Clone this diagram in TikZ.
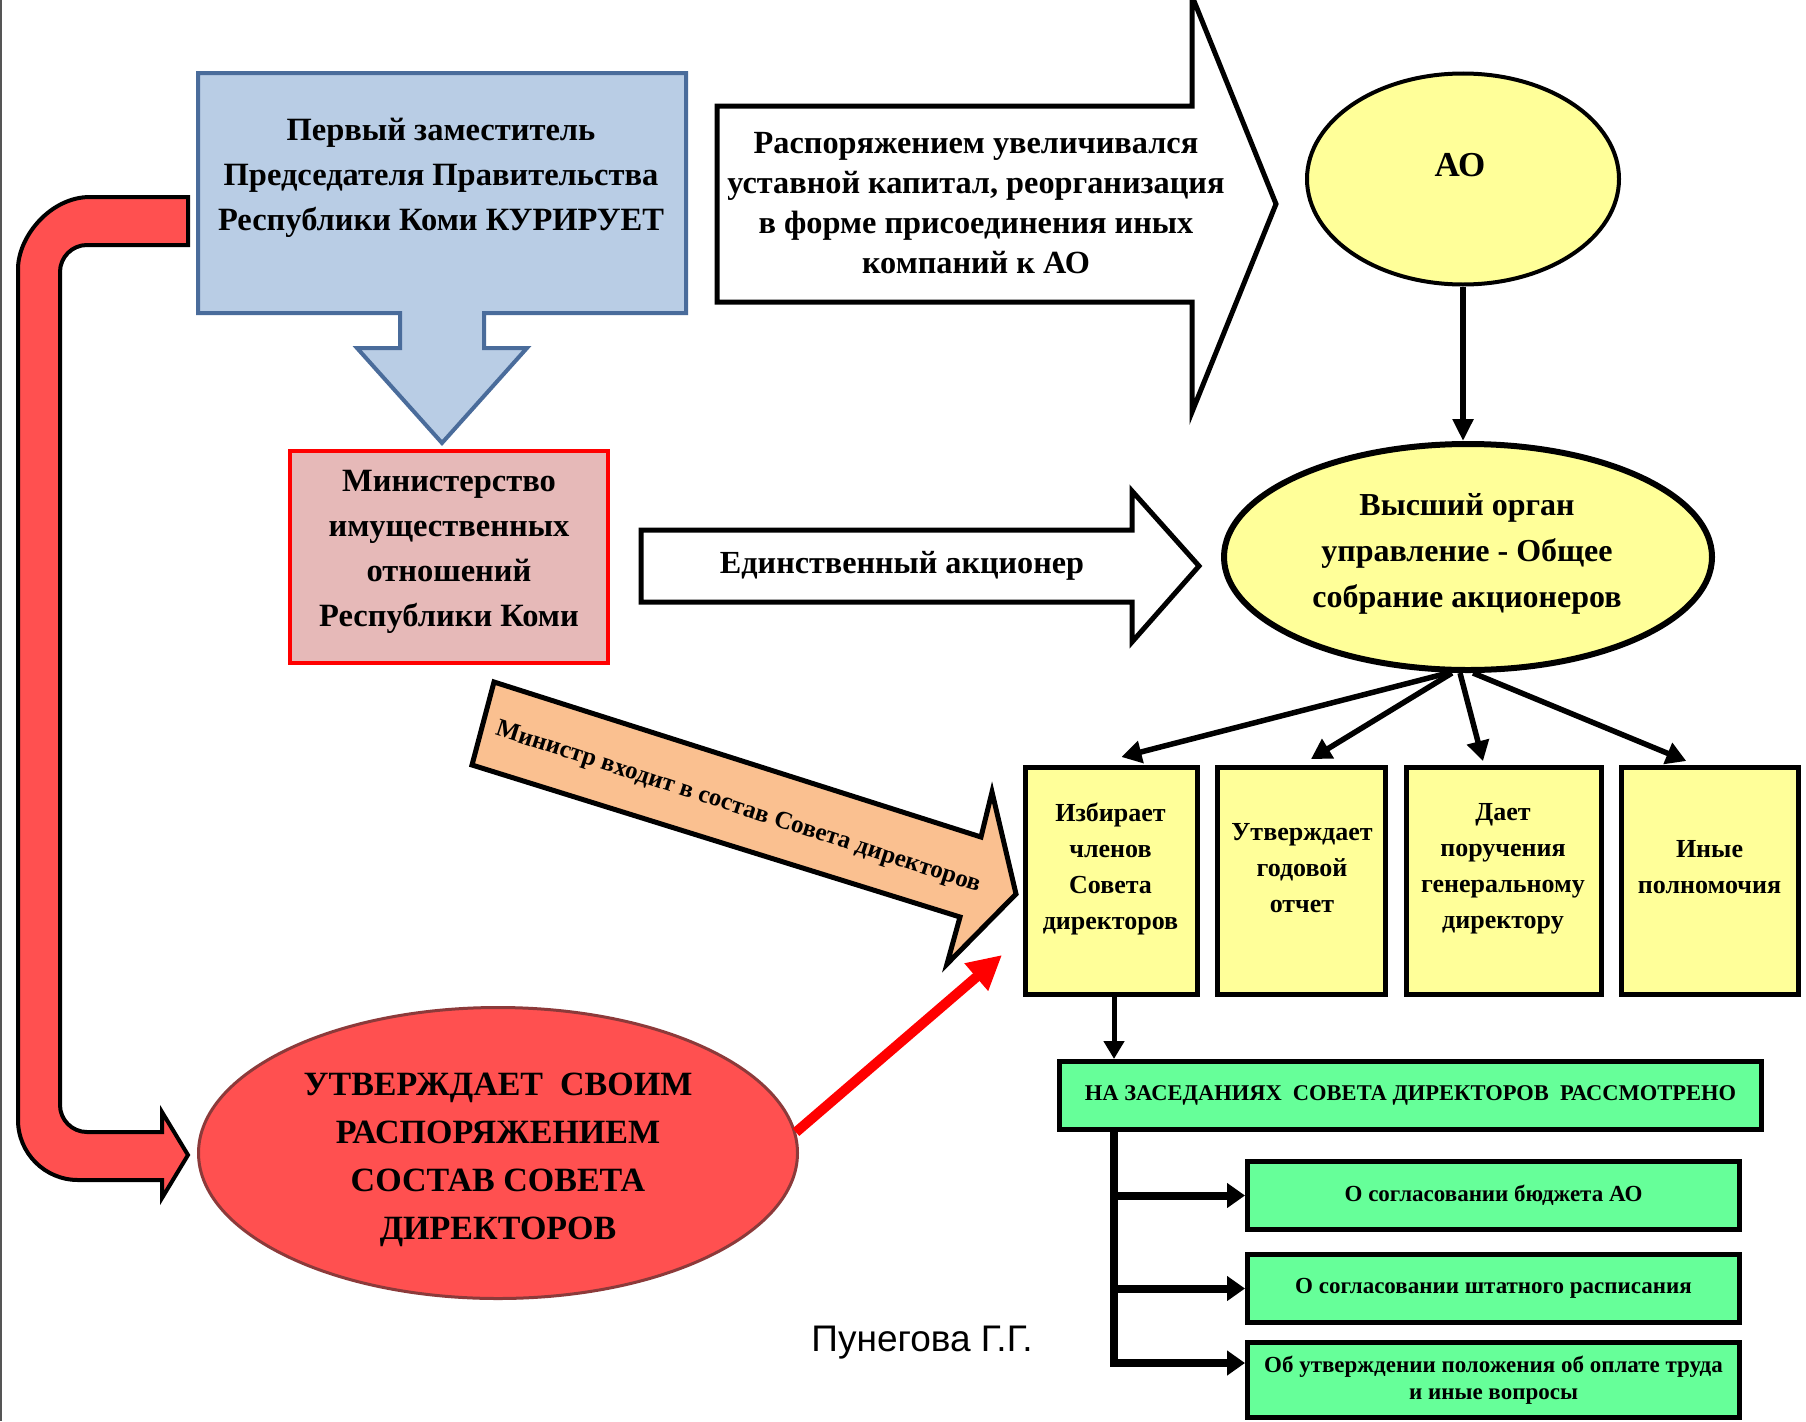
\documentclass[tikz,border=0pt]{standalone}
\usepackage{fontspec}
\setmainfont{Liberation Serif}
\newfontfamily\sansf{Liberation Sans}
\usetikzlibrary{arrows.meta,shapes.geometric,calc}
\definecolor{bluefill}{HTML}{B9CDE5}
\definecolor{blueline}{HTML}{4A6C9B}
\definecolor{pinkfill}{HTML}{E6B9B8}
\definecolor{yellowfill}{HTML}{FFFF99}
\definecolor{greenfill}{HTML}{66FF99}
\definecolor{redfill}{HTML}{FF5050}
\definecolor{ellline}{HTML}{8C3A3A}
\definecolor{orangefill}{HTML}{FAC090}
\definecolor{framegray}{HTML}{555555}
\tikzset{
  txt/.style={font=\bfseries\fontsize{32.5pt}{45pt}\selectfont, align=center, inner sep=0pt},
  boxtxt/.style={font=\bfseries\fontsize{26pt}{36pt}\selectfont, align=center, inner sep=0pt},
  ybox/.style={rectangle, draw=black, line width=5pt, fill=yellowfill, minimum height=227pt, inner sep=0pt},
  gbox/.style={rectangle, draw=black, line width=5pt, fill=greenfill, inner sep=0pt, align=center},
  subtxt/.style={font=\bfseries\fontsize{23pt}{27pt}\selectfont},
  bigarrow/.style={draw=black, line width=5pt, fill=white},
  conn/.style={draw=black, line width=5.5pt, -{Triangle[length=20pt,width=22pt]}},
  branch/.style={draw=black, line width=8pt, -{Triangle[length=18pt,width=24pt]}},
}
\begin{document}
\begin{tikzpicture}[x=1pt,y=-1pt,line join=miter]
\useasboundingbox (0,0) rectangle (1806,1421);
\fill[white] (0,0) rectangle (1806,1421);
\draw[framegray, line width=2pt] (1,0) -- (1,1421);

% blue callout
\draw[blueline, fill=bluefill, line width=4pt] (198,73) -- (686,73) -- (686,313) -- (484,313) -- (484,348) -- (527,348) -- (442,443) -- (357,348) -- (400,348) -- (400,313) -- (198,313) -- cycle;
\node[txt] (first) at (441,178) {Первый заместитель\\Председателя Правительства\\Республики Коми КУРИРУЕТ};

% red U arrow
\draw[black, fill=redfill, line width=4pt] (188,197) -- (90,197) .. controls (50.2,197) and (18,236.8) .. (18,269) -- (18,1120) .. controls (18,1153.1) and (44.9,1180) .. (78,1180) -- (162,1180) -- (162,1198) -- (188,1155) -- (162,1112) -- (162,1132) -- (87,1132) .. controls (72.1,1132) and (60,1119.9) .. (60,1105) -- (60,272) .. controls (60,257.1) and (72.1,245) .. (87,245) -- (188,245) -- cycle;

% ministry box
\node[rectangle, draw=red, line width=4pt, fill=pinkfill, minimum width=318pt, minimum height=212pt, inner sep=0pt] (mio) at (449,557) {};
\node[txt] (miotxt) at (449,552) {Министерство\\имущественных\\отношений\\Республики Коми};

% big arrow with text
\draw[bigarrow] (717,106) -- (1192,106) -- (1192,-4) -- (1276,204) -- (1192,412) -- (1192,302) -- (717,302) -- cycle;
\node[txt, font=\bfseries\fontsize{32.3pt}{40pt}\selectfont] (rasptxt) at (976,203) {Распоряжением увеличивался\\уставной капитал, реорганизация\\в форме присоединения иных\\компаний к АО};

% AO ellipse
\node[ellipse, draw=black, line width=4pt, fill=yellowfill, minimum width=312pt, minimum height=211pt, inner sep=0pt] (ao) at (1463,179) {};
\node[txt, font=\bfseries\fontsize{35pt}{40pt}\selectfont] (aotxt) at (1460,165) {АО};

% single shareholder arrow
\draw[bigarrow] (641,530) -- (1132,530) -- (1132,491) -- (1199,566) -- (1132,642) -- (1132,602) -- (641,602) -- cycle;
\node[txt, font=\bfseries\fontsize{32.2pt}{40pt}\selectfont] (edintxt) at (902,566) {Единственный акционер};

% general meeting ellipse
\node[ellipse, draw=black, line width=6pt, fill=yellowfill, minimum width=488pt, minimum height=226pt, inner sep=0pt] (vo) at (1468,557) {};
\node[txt, font=\bfseries\fontsize{32pt}{46pt}\selectfont] (votxt) at (1467,554) {Высший орган\\управление - Общее\\собрание акционеров};

% yellow boxes
\node[ybox, minimum width=172pt] (b1) at (1111.5,881) {};
\node[ybox, minimum width=168pt] (b2) at (1301.5,881) {};
\node[ybox, minimum width=195pt] (b3) at (1504,881) {};
\node[ybox, minimum width=177pt] (b4) at (1709.75,881) {};
\node[boxtxt] (b1t) at (1110.5,869) {Избирает\\членов\\Совета\\директоров};
\node[boxtxt] (b2t) at (1302,868) {Утверждает\\годовой\\отчет};
\node[boxtxt] (b3t) at (1503,869) {Дает\\поручения\\генеральному\\директору};
\node[boxtxt] (b4t) at (1709.5,867) {Иные\\полномочия};

% orange arrow
\draw[black, fill=orangefill, line width=5pt] (494,682) -- (981,837) -- (992,792) -- (1016,894) -- (947,964) -- (960,917) -- (472,765) -- cycle;
\node[font=\bfseries\fontsize{25pt}{28pt}\selectfont, inner sep=0pt, rotate=-18] (mintxt) at (738,808) {Министр входит в состав Совета директоров};

% red ellipse
\node[ellipse, draw=ellline, line width=3pt, fill=redfill, minimum width=599pt, minimum height=291pt, inner sep=0pt] (utv) at (498,1153) {};
\node[txt, font=\bfseries\fontsize{34pt}{48pt}\selectfont] (utvtxt) at (498,1160) {УТВЕРЖДАЕТ\ \ СВОИМ\\РАСПОРЯЖЕНИЕМ\\СОСТАВ СОВЕТА\\ДИРЕКТОРОВ};
\coordinate (rtip) at (1002,955);
\draw[red, line width=10pt, -{Triangle[length=34pt,width=34pt]}] (utv.4) -- (rtip);

% green boxes
\node[gbox, minimum width=702pt, minimum height=68pt, font=\bfseries\fontsize{22.5pt}{26pt}\selectfont] (header) at (1410.5,1095.5) {НА ЗАСЕДАНИЯХ\ \ СОВЕТА ДИРЕКТОРОВ\ \ РАССМОТРЕНО};
\node[gbox, minimum width=492pt, minimum height=68pt, subtxt] (sa) at (1493.5,1195.5) {О согласовании бюджета АО};
\node[gbox, minimum width=492pt, minimum height=68pt, subtxt] (sb) at (1493.5,1288.5) {О согласовании штатного расписания};
\node[gbox, minimum width=492pt, minimum height=75pt, subtxt] (sc) at (1493.5,1380) {Об утверждении положения об оплате труда\\и иные вопросы};

% connectors
\draw[conn, -{Triangle[length=22pt,width=20pt]}] (ao.south) -- (ao.south |- vo.north);
\draw[conn] ([xshift=-20pt]vo.south) -- ([xshift=10pt,yshift=8pt]b1.north);
\draw[conn] ([xshift=-16pt]vo.south) -- ([xshift=9.5pt,yshift=6pt]b2.north);
\draw[conn] ([xshift=-8pt]vo.south) -- ([xshift=-21pt,yshift=4pt]b3.north);
\draw[conn] ([xshift=5pt]vo.south) -- ([xshift=-23.5pt,yshift=4pt]b4.north);
\coordinate (bdown) at ($(b1.south)+(2.5,0)$);
\draw[conn, line width=5pt, -{Triangle[length=18pt,width=20pt]}] (bdown) -- (bdown |- header.north);
\coordinate (trunk) at (header.south -| bdown);
\coordinate (scin) at ([yshift=17pt]sc.west);
\draw[branch] (trunk) -- (trunk |- scin) -- (scin);
\draw[branch] (trunk |- sa.west) -- (sa.west);
\draw[branch] (trunk |- sb.west) -- (sb.west);

\node[font=\sansf\fontsize{37pt}{40pt}\selectfont, inner sep=0pt] (author) at (922,1343) {Пунегова Г.Г.};
\end{tikzpicture}
\end{document}
